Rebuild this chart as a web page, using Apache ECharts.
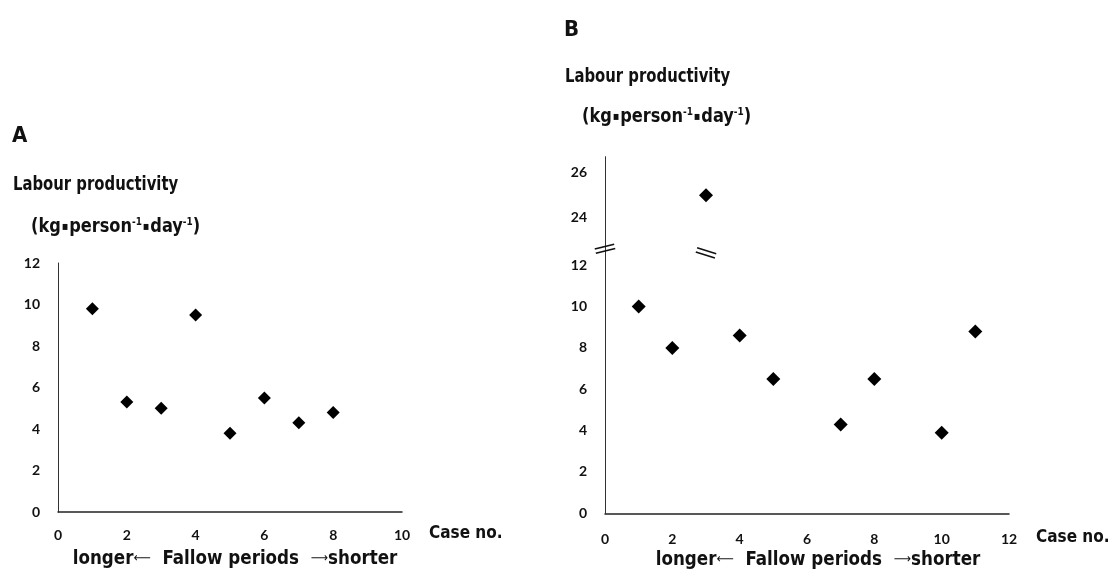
<!DOCTYPE html>
<html>
<head>
<meta charset="utf-8">
<title>Labour productivity vs fallow periods</title>
<style>
  html, body { margin: 0; padding: 0; background: #fff; }
  #chart { width: 1111px; height: 572px; }
</style>
</head>
<body>
<div id="chart"></div>
<script src="https://cdn.jsdelivr.net/npm/echarts@6.0.0/dist/echarts.min.js"></script>
<script>
// panel A
var casesA = [1, 2, 3, 4, 5, 6, 7, 8];
var productivityA = [9.8, 5.3, 5.0, 9.5, 3.8, 5.5, 4.3, 4.8];

// panel B, split round the axis break: case 3 is the only point above it
var casesB = [1, 2, 4, 5, 7, 8, 10, 11];
var productivityB = [10.0, 8.0, 8.6, 6.5, 4.3, 6.5, 3.9, 8.8];
var casesBHigh = [3];
var productivityBHigh = [25.0];
var lowRangeB = [0, 13];
var highRangeB = [22, 26.7];
var breakMarksB = [[0, 12.8, 14], [3, 12.6, -17]]; // x, y, tilt

var chart = echarts.init(document.getElementById('chart'), null, {renderer: 'canvas'});

var TITLE_FONT = "'Liberation Sans Narrow', 'DejaVu Sans Condensed', 'Noto Sans CJK JP', sans-serif";
var TICK_FONT = "Lato, 'Open Sans', sans-serif";

function pairs(xs, ys) {
  return xs.map(function (x, i) { return [x, ys[i]]; });
}

function xAxisFor(grid, max, margin) {
  return {
    gridIndex: grid, type: 'value', min: 0, max: max, interval: 2,
    axisLine: {show: true, onZero: false, lineStyle: {color: '#222', width: 1.5}},
    axisTick: {show: false},
    splitLine: {show: false},
    axisLabel: {color: '#111', fontFamily: TICK_FONT, fontWeight: 'bold', fontSize: 14, margin: margin},
    name: 'Case no.', nameLocation: 'end', nameGap: 27,
    nameTextStyle: {color: '#111', fontFamily: TITLE_FONT, fontWeight: 'bold', fontSize: 17,
      verticalAlign: 'top', padding: [margin - 3, 0, 0, 0]}
  };
}

function yAxisFor(grid, min, max) {
  return {
    gridIndex: grid, type: 'value', min: min, max: max, interval: 2,
    axisLine: {show: true, onZero: false, lineStyle: {color: '#333', width: 1}},
    axisTick: {show: false},
    splitLine: {show: false},
    axisLabel: {color: '#111', fontFamily: TICK_FONT, fontWeight: 'bold', fontSize: 14, margin: 18}
  };
}

var yLowB = yAxisFor(1, lowRangeB[0], lowRangeB[1]);
yLowB.axisLabel.showMaxLabel = false;
var yHighB = yAxisFor(2, highRangeB[0], highRangeB[1]);
yHighB.axisLabel.showMinLabel = false;
yHighB.axisLabel.showMaxLabel = false;
var xHighB = xAxisFor(2, 12, 19);
xHighB.show = false;

function heading(x, y, text, size, sx) {
  return {type: 'text', x: x, y: y, scaleX: sx || 1, silent: true,
    style: {text: text, fill: '#111', font: 'bold ' + size + 'px ' + TITLE_FONT, verticalAlign: 'middle'}};
}

function unitText(x, y) {
  return {type: 'text', x: x, y: y, scaleX: 0.9, silent: true,
    style: {
      text: '(kg{dot|▪}person{sup|-1}{dot|▪}day{sup|-1})',
      fill: '#111', font: 'bold 20px ' + TITLE_FONT, verticalAlign: 'middle',
      rich: {
        sup: {fontSize: 11, fontWeight: 'bold', fontFamily: TITLE_FONT, verticalAlign: 'top', fill: '#111'},
        dot: {fontSize: 12, fontFamily: TITLE_FONT, verticalAlign: 'middle', fill: '#111', padding: [0, 1, 0, 1]}
      }
    }};
}

function fallowText(x, y) {
  return {type: 'text', x: x, y: y, scaleX: 0.93, silent: true,
    style: {text: 'longer{arr|⟵}  Fallow periods  {arr|⟶}shorter', fill: '#111',
      font: 'bold 20px ' + TITLE_FONT, align: 'center', verticalAlign: 'middle',
      rich: {arr: {fontSize: 13, fontFamily: "'DejaVu Sans', sans-serif", fill: '#111', verticalAlign: 'middle'}}}};
}

chart.setOption({
  backgroundColor: '#fff',
  animation: false,
  grid: [
    {left: 58, top: 263, width: 344, height: 249, outerBoundsMode: 'none'},
    {left: 605, top: 244.6, width: 404, height: 268.7, outerBoundsMode: 'none'},
    {left: 605, top: 156.7, width: 404, height: 106.3, outerBoundsMode: 'none'}
  ],
  xAxis: [xAxisFor(0, 10, 16), xAxisFor(1, 12, 19), xHighB],
  yAxis: [yAxisFor(0, 0, 12), yLowB, yHighB],
  series: [
    {type: 'scatter', name: 'A', xAxisIndex: 0, yAxisIndex: 0, symbol: 'diamond', symbolSize: 13,
      itemStyle: {color: '#000', opacity: 1}, data: pairs(casesA, productivityA)},
    {type: 'scatter', name: 'B', xAxisIndex: 1, yAxisIndex: 1, symbol: 'diamond', symbolSize: 14,
      itemStyle: {color: '#000', opacity: 1}, data: pairs(casesB, productivityB)},
    {type: 'scatter', name: 'B high', xAxisIndex: 2, yAxisIndex: 2, symbol: 'diamond', symbolSize: 14,
      itemStyle: {color: '#000', opacity: 1}, data: pairs(casesBHigh, productivityBHigh)},
    {type: 'scatter', name: 'break', xAxisIndex: 1, yAxisIndex: 1, silent: true, z: 5,
      symbol: 'path://M0,0L20,0L20,1.6L0,1.6Z M0,4.6L20,4.6L20,6.2L0,6.2Z', symbolSize: [20, 6],
      itemStyle: {color: '#111', opacity: 1},
      data: breakMarksB.map(function (m) { return {value: [m[0], m[1]], symbolRotate: m[2]}; })}
  ],
  graphic: [
    heading(12, 136, 'A', 22),
    heading(13, 185, 'Labour productivity', 20, 0.825),
    unitText(31, 227),
    heading(564, 30, 'B', 22),
    heading(565, 77, 'Labour productivity', 20, 0.825),
    unitText(582, 117),
    fallowText(235, 559),
    fallowText(818, 560)
  ]
});
</script>
</body>
</html>
